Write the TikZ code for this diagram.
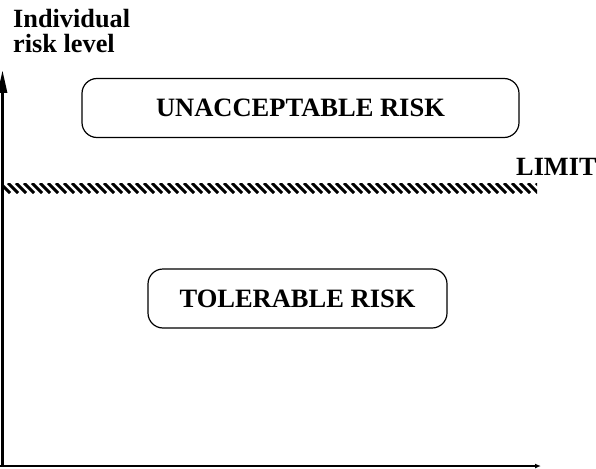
\documentclass[tikz,border=0pt]{standalone}
\usepackage{fontspec}
\setmainfont{Liberation Serif}
\usetikzlibrary{arrows.meta}

\begin{document}
\begin{tikzpicture}[x=1pt,y=-1pt,
  lbl/.style={font=\fontsize{26.3}{25}\selectfont\bfseries, inner sep=0pt},
  riskbox/.style={draw, line width=1.2pt, rounded corners=15pt,
    font=\fontsize{26.5}{25}\selectfont\bfseries, inner sep=0pt},
  axis/.style={line width=3pt},
]
\useasboundingbox (0,0) rectangle (596,468);

% axes
\coordinate (origin) at (2.5,466);
\coordinate (ytop) at (2.5,70);
\coordinate (xend) at (541,466);
\draw[axis, -{Triangle[length=23pt,width=9pt]}] (origin) -- (ytop);
\draw[line width=2pt, -{Latex[length=6pt,width=5pt]}] (0,466) -- (xend);

% axis label
\node[lbl, align=left, anchor=north west] (ylabel) at (13,9)
  {Individual\\[0pt]risk level};

% hatched limit band
\coordinate (bandA) at (3,183);
\coordinate (bandB) at (537,193);
\begin{scope}
  \clip (bandA) rectangle (bandB);
  \foreach \i in {-2,...,68}
    \draw[line width=2.9pt] (\i*8,183) -- ++(10,10);
\end{scope}
\node[lbl, anchor=base west] (limit) at (516,175) {LIMIT};

% risk regions
\node[riskbox, minimum width=437pt, minimum height=59pt] (unacc)
  at (300.5,108) {UNACCEPTABLE RISK};
\node[riskbox, minimum width=299pt, minimum height=59pt] (toler)
  at (297.5,298.5) {TOLERABLE RISK};
\end{tikzpicture}
\end{document}
